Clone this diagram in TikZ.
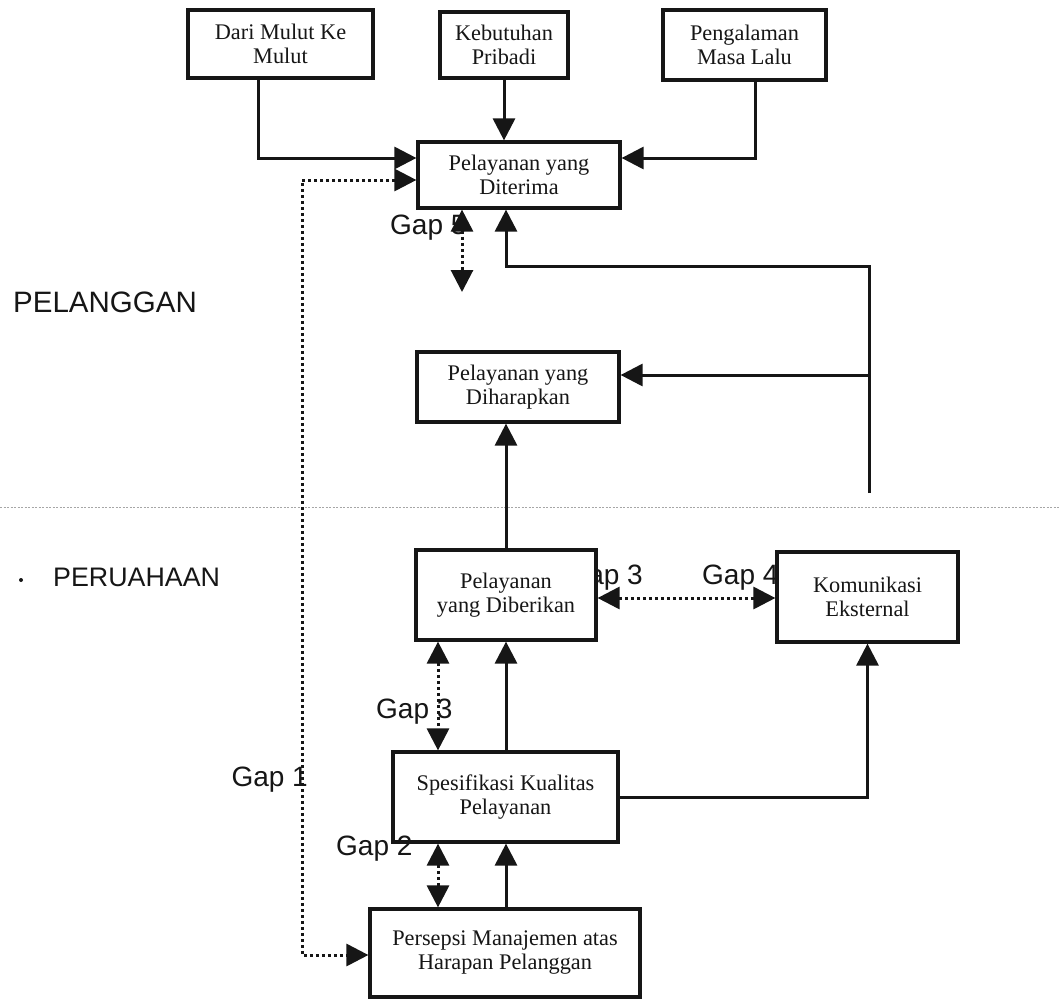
\documentclass[tikz,border=0pt]{standalone}
\usepackage{fontspec}
\setmainfont{Liberation Serif}
\newfontfamily\gapfont{Liberation Sans}
\usetikzlibrary{arrows.meta,calc}
\definecolor{ink}{HTML}{161616}
\tikzset{
  box/.style={draw=ink, line width=3.2pt, fill=white, align=center, inner sep=0pt,
    font=\fontsize{22.3}{24}\selectfont, text=ink},
  tip/.style={-{Triangle[length=22pt,width=22pt]}},
  arr/.style={draw=ink, line width=3pt, tip},
  dotline/.style={draw=ink, line width=3pt, dash pattern=on 3pt off 3pt},
  dotarr/.style={dotline, {Triangle[length=22pt,width=22pt]}-{Triangle[length=22pt,width=22pt]}},
  gaplabel/.style={font=\gapfont\fontsize{28}{30}\selectfont, text=ink, inner sep=0pt},
  sidelabel/.style={font=\gapfont\fontsize{28}{30}\selectfont, text=ink, inner sep=0pt, anchor=west}
}
\begin{document}
\begin{tikzpicture}[x=1pt,y=-1pt]
\useasboundingbox (0,0) rectangle (1060,999);

% separator between customer side and company side
\draw[gray!70, line width=1pt, dash pattern=on 2pt off 1.5pt] (0,507) -- (1060,507);

% side titles
\node[sidelabel, font=\gapfont\fontsize{29.5}{30}\selectfont] (pel) at (13,302) {PELANGGAN};
\node[sidelabel, font=\gapfont\fontsize{26.8}{30}\selectfont] (per) at (53,577) {PERUAHAAN};
\fill[ink] (21,580) circle (2pt);

% gap labels drawn first so the boxes sit on top of them
\node[gaplabel, anchor=east] (gap3a) at (643,578) {Gap 3};
\node[gaplabel, anchor=west] (gap4) at (702,578) {Gap 4};

% boxes
\node[box, minimum width=185pt, minimum height=68pt] (dari) at (280.5,44) {Dari Mulut Ke\\Mulut};
\node[box, minimum width=128pt, minimum height=66pt] (kebutuhan) at (504,45) {Kebutuhan\\Pribadi};
\node[box, minimum width=163pt, minimum height=70pt] (pengalaman) at (744.5,45) {Pengalaman\\Masa Lalu};
\node[box, minimum width=202pt, minimum height=66pt] (diterima) at (519,175) {Pelayanan yang\\Diterima};
\node[box, minimum width=202pt, minimum height=70pt] (diharapkan) at (518,387) {Pelayanan yang\\Diharapkan};
\node[box, minimum width=180pt, minimum height=90pt] (diberikan) at (506,595) {Pelayanan\\yang Diberikan};
\node[box, minimum width=181pt, minimum height=90pt] (komunikasi) at (867.5,597) {Komunikasi\\Eksternal};
\node[box, minimum width=225pt, minimum height=90pt] (spesifikasi) at (505.5,797) {Spesifikasi Kualitas\\Pelayanan};
\node[box, minimum width=270pt, minimum height=88pt] (persepsi) at (505,953) {Persepsi Manajemen atas\\Harapan Pelanggan};

% remaining gap labels
\node[gaplabel, anchor=west] (gap5) at (390,228) {Gap 5};
\node[gaplabel, anchor=west] (gap3b) at (376,712) {Gap 3};
\node[gaplabel, anchor=east] (gap1) at (308,780) {Gap 1};
\node[gaplabel, anchor=west] (gap2) at (336,849) {Gap 2};

% helper points
\coordinate (g1) at (302,955);
\coordinate (g5) at (462,292);
\coordinate (gx) at (438,0);
\coordinate (rt) at (869,493);
\coordinate (rtop) at (869,266);
\coordinate (dhin) at ([yshift=12pt]diharapkan.east);

% inputs to the perceived service
\draw[arr] ([xshift=-22pt]dari.south) |- ([yshift=17pt]diterima.west);
\draw[arr] (kebutuhan.south) -- (kebutuhan.south |- diterima.north);
\draw[arr] ([xshift=10.5pt]pengalaman.south) |- ([yshift=17pt]diterima.east);

% gap 1 loop
\draw[dotarr] ([yshift=-5pt]diterima.west) -| (g1) -- (g1 -| persepsi.west);

% gap 5
\draw[dotarr] (diterima.south -| g5) -- (g5);

% external communication feeds back to the customer side
\draw[arr] (rt) -- (rtop) -| (diterima.south -| diberikan.north);
\draw[arr] (rt |- dhin) -- (dhin);

% company side
\draw[arr] (diberikan.north) -- (diharapkan.south -| diberikan.north);
\draw[dotarr] ([yshift=-3pt]diberikan.east) -- ([yshift=-3pt]diberikan.east -| komunikasi.west);
\draw[arr] (spesifikasi.east) -| (komunikasi.south);
\draw[arr] (spesifikasi.north -| diberikan.south) -- (diberikan.south);
\draw[dotarr] (diberikan.south -| gx) -- (spesifikasi.north -| gx);
\draw[dotarr] (spesifikasi.south -| gx) -- (persepsi.north -| gx);
\draw[arr] (persepsi.north -| diberikan.south) -- (spesifikasi.south -| diberikan.south);
\end{tikzpicture}
\end{document}
